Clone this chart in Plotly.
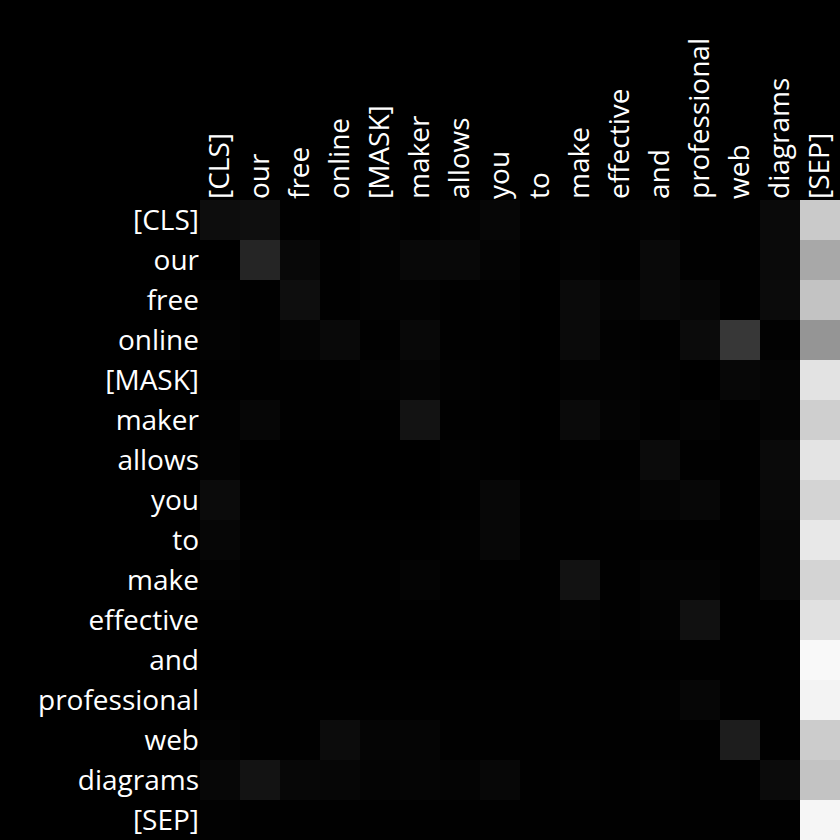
import plotly.graph_objects as go

tokens = ["[CLS]", "our", "free", "online", "[MASK]", "maker", "allows", "you",
          "to", "make", "effective", "and", "professional", "web", "diagrams", "[SEP]"]

# attention intensity (0 = black, 255 = white); rows = query, cols = key
row_cls = [13, 15, 1, 0, 3, 1, 3, 6, 1, 2, 2, 3, 1, 1, 10, 202]
row_our = [0, 37, 8, 1, 3, 8, 8, 4, 0, 3, 1, 9, 1, 1, 10, 168]
row_free = [2, 1, 14, 1, 3, 3, 1, 2, 0, 10, 5, 9, 6, 1, 11, 195]
row_online = [3, 1, 5, 9, 1, 8, 1, 1, 0, 10, 2, 1, 11, 55, 2, 149]
row_mask = [1, 1, 1, 1, 3, 5, 2, 1, 0, 3, 3, 2, 0, 7, 5, 227]
row_maker = [2, 6, 1, 1, 1, 19, 1, 1, 0, 10, 4, 1, 4, 1, 5, 207]
row_allows = [3, 0, 0, 0, 0, 0, 2, 1, 0, 1, 1, 11, 1, 1, 10, 228]
row_you = [11, 1, 0, 0, 0, 0, 1, 7, 1, 1, 2, 5, 7, 1, 9, 212]
row_to = [6, 2, 1, 1, 1, 1, 2, 7, 1, 1, 1, 1, 1, 1, 7, 232]
row_make = [3, 1, 2, 1, 1, 4, 1, 1, 1, 18, 1, 4, 4, 1, 7, 212]
row_effective = [1, 1, 1, 1, 1, 1, 1, 1, 1, 3, 1, 3, 17, 1, 1, 225]
row_and = [0, 0, 0, 0, 0, 0, 0, 0, 1, 1, 1, 1, 1, 1, 1, 249]
row_professional = [1, 1, 1, 1, 1, 1, 1, 1, 1, 1, 1, 2, 6, 1, 1, 243]
row_web = [3, 1, 1, 12, 5, 5, 1, 1, 1, 1, 1, 1, 1, 29, 1, 204]
row_diagrams = [7, 19, 7, 6, 4, 5, 4, 7, 1, 2, 1, 2, 1, 1, 11, 195]
row_sep = [2, 1, 1, 1, 1, 1, 1, 1, 1, 1, 1, 1, 1, 1, 1, 246]

z = [row_cls, row_our, row_free, row_online, row_mask, row_maker, row_allows, row_you,
     row_to, row_make, row_effective, row_and, row_professional, row_web, row_diagrams, row_sep]

fig = go.Figure(go.Heatmap(
    z=z, x=tokens, y=tokens,
    colorscale=[[0, "rgb(0,0,0)"], [1, "rgb(255,255,255)"]],
    zmin=0, zmax=255, showscale=False, xgap=0, ygap=0,
))

font = dict(family="Open Sans", size=28, color="white")
fig.update_layout(
    width=840, height=840,
    margin=dict(l=200, r=0, t=200, b=0),
    paper_bgcolor="black", plot_bgcolor="black",
    font=font,
    xaxis=dict(side="top", tickangle=-90, showgrid=False, zeroline=False,
               tickfont=font, ticks="", type="category"),
    yaxis=dict(autorange="reversed", showgrid=False, zeroline=False,
               tickfont=font, ticks="", type="category"),
)
fig.write_html("out.html")
